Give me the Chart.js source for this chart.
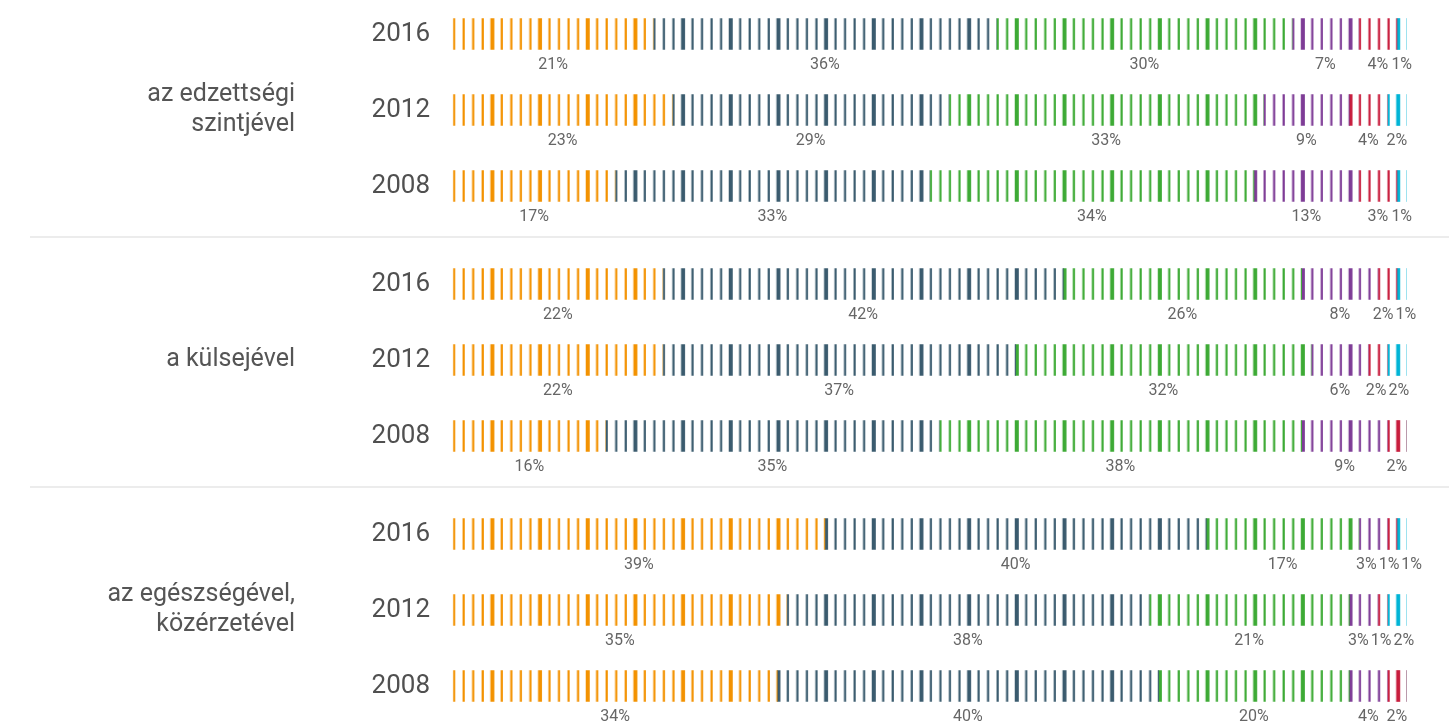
<!DOCTYPE html>
<html>
<head>
<meta charset="utf-8">
<script src="https://cdn.jsdelivr.net/npm/chart.js@4.4.1/dist/chart.umd.min.js"></script>
<style>
html,body{margin:0;padding:0;background:#fff;overflow:hidden;width:1449px;height:723px;}
#wrap{position:relative;width:1449px;height:723px;overflow:hidden;}
canvas{position:absolute;left:0;}
</style>
</head>
<body>
<div id="wrap">
<canvas id="g0" width="1449" height="250" style="top:0px"></canvas>
<canvas id="g1" width="1449" height="250" style="top:250px"></canvas>
<canvas id="g2" width="1449" height="250" style="top:500px"></canvas>
</div>
<script>
// ---- data ----
const groupLabels = [['az edzettségi', 'szintjével'], ['a külsejével'], ['az egészségével,', 'közérzetével']];
const years = ['2016', '2012', '2008'];

// number of strokes (1 stroke = 1%) per row, rows: 3 groups x (2016, 2012, 2008)
const s1Ticks = [21, 23, 17, 22, 22, 16, 39, 35, 34];
const s2Ticks = [36, 29, 33, 42, 37, 35, 40, 38, 40];
const s3Ticks = [31, 33, 34, 25, 31, 38, 16, 21, 20];
const s4Ticks = [7, 9, 11, 8, 6, 9, 3, 3, 4];
const s5Ticks = [4, 4, 4, 2, 2, 2, 1, 1, 2];
const s6Ticks = [1, 2, 1, 1, 2, 0, 1, 2, 0];

// printed percentages
const s1Pct = [21, 23, 17, 22, 22, 16, 39, 35, 34];
const s2Pct = [36, 29, 33, 42, 37, 35, 40, 38, 40];
const s3Pct = [30, 33, 34, 26, 32, 38, 17, 21, 20];
const s4Pct = [7, 9, 13, 8, 6, 9, 3, 3, 4];
const s5Pct = [4, 4, 3, 2, 2, 2, 1, 1, 2];
const s6Pct = [1, 2, 1, 1, 2, null, 1, 2, null];

const seriesNames = ['1. kategória', '2. kategória', '3. kategória', '4. kategória', '5. kategória', '6. kategória'];
const seriesColors = ['#F39200', '#3A5B6E', '#3DAA35', '#7E3C96', '#C81D3D', '#00B4D6'];

const tickSeries = [s1Ticks, s2Ticks, s3Ticks, s4Ticks, s5Ticks, s6Ticks];
const pctSeries = [s1Pct, s2Pct, s3Pct, s4Pct, s5Pct, s6Pct];

const FONT = 'Roboto, "Noto Sans", "DejaVu Sans", sans-serif';

// striped pattern anchored to the x scale (one stroke per unit, every 5th thicker)
function patternFor(chart, d) {
  const xs = chart.scales && chart.scales.x;
  if (!xs) return seriesColors[d];
  const x0 = xs.getPixelForValue(0);
  const w = xs.getPixelForValue(1) - x0;
  if (!isFinite(x0) || !isFinite(w) || w <= 0) return seriesColors[d];
  chart.$pat = chart.$pat || {};
  const key = d + ':' + x0.toFixed(2) + ':' + w.toFixed(4);
  if (!chart.$pat[key]) {
    const T = 10, s = w / T;
    const tile = document.createElement('canvas');
    tile.width = 5 * T; tile.height = 4;
    const g = tile.getContext('2d');
    g.fillStyle = seriesColors[d];
    for (let k = 0; k < 4; k++) g.fillRect(k * T + 1.5 / s, 0, 2.2 / s, 4);
    g.fillRect(4 * T + 0.7 / s, 0, 4 / s, 4);
    const p = chart.ctx.createPattern(tile, 'repeat');
    p.setTransform(new DOMMatrix().translate(x0 - 1.5, 0).scale(s, 1));
    chart.$pat[key] = p;
  }
  return chart.$pat[key];
}

function resolveOverlaps(items, gap) {
  items.sort((a, b) => a.c - b.c);
  let clusters = items.map(it => ({ items: [it], sum: it.c, n: 1, width: it.w }));
  let changed = true;
  while (changed) {
    changed = false;
    for (let i = 0; i < clusters.length - 1; i++) {
      const a = clusters[i], b = clusters[i + 1];
      const aR = a.sum / a.n + a.width / 2;
      const bL = b.sum / b.n - b.width / 2;
      if (aR + gap > bL) {
        a.items = a.items.concat(b.items);
        a.sum += b.sum; a.n += b.n;
        a.width = a.width + gap + b.width;
        clusters.splice(i + 1, 1);
        changed = true;
        break;
      }
    }
  }
  clusters.forEach(cl => {
    let start = cl.sum / cl.n - cl.width / 2;
    cl.items.forEach(it => { it.x = start + it.w / 2; start += it.w + gap; });
  });
}

const labelPlugin = {
  id: 'pctLabels',
  afterDatasetsDraw(chart) {
    const ctx = chart.ctx;
    ctx.save();
    ctx.font = '16px ' + FONT;
    ctx.fillStyle = '#666666';
    ctx.textAlign = 'center';
    ctx.textBaseline = 'middle';
    const nRows = chart.data.labels.length;
    for (let r = 0; r < nRows; r++) {
      const items = [];
      let yy = null;
      chart.data.datasets.forEach((ds, d) => {
        const el = chart.getDatasetMeta(d).data[r];
        const v = ds.data[r], t = ds.pct[r];
        if (!el || !v || t == null) return;
        const txt = t + '%';
        items.push({ c: (el.x + el.base) / 2, w: ctx.measureText(txt).width, txt });
        yy = el.y + el.height / 2 + 15;
      });
      resolveOverlaps(items, 2);
      items.forEach(it => ctx.fillText(it.txt, it.x, yy));
    }
    ctx.restore();
  }
};

const decoPlugin = {
  id: 'groupDeco',
  afterDraw(chart, args, opts) {
    const ctx = chart.ctx;
    const ys = chart.scales.y;
    ctx.save();
    ctx.font = '25px ' + FONT;
    ctx.fillStyle = '#555555';
    ctx.textAlign = 'right';
    ctx.textBaseline = 'middle';
    const lines = groupLabels[opts.g];
    const mid = ys.getPixelForValue(1);
    const lh = 30;
    lines.forEach((ln, i) => {
      ctx.fillText(ln, 295, mid + (i - (lines.length - 1) / 2) * lh);
    });
    if (opts.g < groupLabels.length - 1) {
      ctx.fillStyle = '#ececec';
      ctx.fillRect(30, 236, chart.width - 30, 2);
    }
    ctx.restore();
  }
};

for (let g = 0; g < 3; g++) {
  const idx = [3 * g, 3 * g + 1, 3 * g + 2];
  new Chart(document.getElementById('g' + g), {
    type: 'bar',
    data: {
      labels: years,
      datasets: tickSeries.map((arr, d) => ({
        label: seriesNames[d],
        data: idx.map(i => arr[i]),
        pct: idx.map(i => pctSeries[d][i]),
        backgroundColor: (c) => patternFor(c.chart, d),
        borderWidth: 0,
        barThickness: 31,
        clip: false
      }))
    },
    options: {
      responsive: false,
      animation: false,
      devicePixelRatio: 1,
      indexAxis: 'y',
      layout: { padding: { top: 34, bottom: 64, left: 0, right: 42.5 } },
      scales: {
        x: { stacked: true, min: 0, max: 100, display: false },
        y: {
          stacked: true,
          offset: false,
          grid: { display: false, drawTicks: false },
          border: { display: false },
          ticks: { font: { family: FONT, size: 26 }, color: '#505050', padding: 23 },
          afterFit(scale) {
            scale.width = 453;
            scale.paddingTop = 0;
            scale.paddingBottom = 0;
          }
        }
      },
      plugins: {
        legend: { display: false },
        tooltip: { enabled: false },
        groupDeco: { g: g }
      }
    },
    plugins: [labelPlugin, decoPlugin]
  });
}
</script>
</body>
</html>
